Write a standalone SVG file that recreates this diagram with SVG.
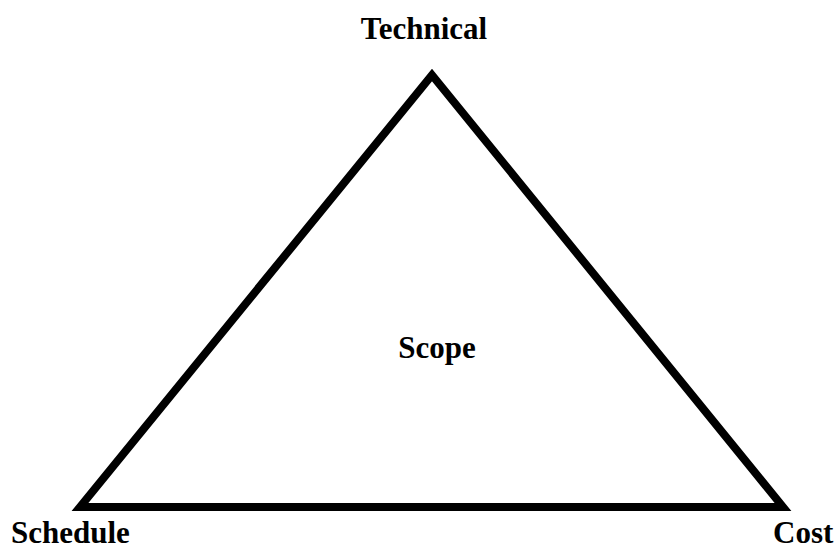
<svg xmlns="http://www.w3.org/2000/svg" width="836" height="550" viewBox="0 0 836 550">
<style>
.lbl{font-family:"Liberation Serif","Times New Roman",serif;font-weight:bold;font-size:31px;fill:#000}
.tri{fill:none;stroke:#000;stroke-width:8;stroke-linejoin:miter;stroke-miterlimit:10}
</style>
<rect width="836" height="550" fill="#fff"/>
<g id="connectors">
<polygon class="tri" points="432,75 80,507 783,507"/>
</g>
<g id="technical"><text class="lbl" x="424" y="39" text-anchor="middle">Technical</text></g>
<g id="scope"><text class="lbl" x="437" y="358" text-anchor="middle">Scope</text></g>
<g id="schedule"><text class="lbl" x="11" y="543">Schedule</text></g>
<g id="cost"><text class="lbl" x="773" y="543">Cost</text></g>
</svg>
